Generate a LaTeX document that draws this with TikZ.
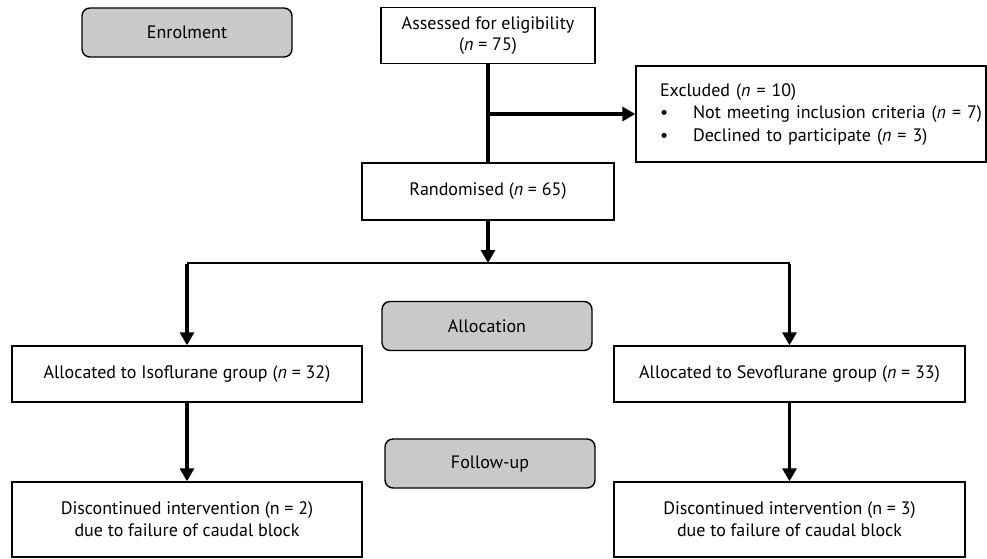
\documentclass[tikz,border=0pt]{standalone}
\usepackage{fontspec}
\setmainfont{PT Sans}
\usetikzlibrary{arrows.meta,positioning}
\definecolor{stagegray}{HTML}{C8C9CB}
\begin{document}
\begin{tikzpicture}[x=1pt,y=-1pt,
  font=\fontsize{18}{21}\selectfont,
  box/.style={draw,line width=1.4pt,align=center,inner sep=0pt},
  stage/.style={draw,line width=1.4pt,fill=stagegray,rounded corners=8pt,minimum width=210pt,minimum height=49pt,inner sep=0pt},
  thickline/.style={line width=3.2pt},
  thinline/.style={line width=1.4pt},
  arr/.style={line width=3.2pt,-{Triangle[length=13pt,width=14pt]}}]
\useasboundingbox (0,0) rectangle (987,558);
% stage labels
\node[stage] (enrol) at (187,32.5) {Enrolment};
\node[stage] (alloc) at (487,326) {Allocation};
\node[stage] (follow) at (490,463.5) {Follow-up};
% boxes
\node[box,minimum width=214pt,minimum height=56pt] (assess) at (488,35.5) {Assessed for eligibility\\(\textit{n} = 75)};
\node[box,minimum width=350pt,minimum height=96pt,text width=326pt,align=left] (excl) at (811,114)
  {\fontsize{18}{22.5}\selectfont\begin{tabular}{@{\hspace{12pt}}p{33pt}@{}l@{}}
   \multicolumn{2}{@{\hspace{12pt}}l}{Excluded (\textit{n} = 10)}\\
   \textbullet & Not meeting inclusion criteria (\textit{n} = 7)\\
   \textbullet & Declined to participate (\textit{n} = 3)
   \end{tabular}};
\node[box,minimum width=252pt,minimum height=57pt] (rand) at (488,191.5) {Randomised (\textit{n} = 65)};
\node[box,minimum width=350pt,minimum height=56pt] (iso) at (187,374) {Allocated to Isoflurane group (\textit{n} = 32)};
\node[box,minimum width=351pt,minimum height=56pt] (sevo) at (789.5,374) {Allocated to Sevoflurane group (\textit{n} = 33)};
\node[box,minimum width=350pt,minimum height=75pt,font=\fontsize{18}{22}\selectfont] (disc1) at (187,519.5) {Discontinued intervention (n = 2)\\due to failure of caudal block};
\node[box,minimum width=351pt,minimum height=75pt,font=\fontsize{18}{22}\selectfont] (disc2) at (789.5,519.5) {Discontinued intervention (n = 3)\\due to failure of caudal block};
% junction coordinates
\coordinate (jx) at (assess.south |- excl.west);
\coordinate (split) at (488,263);
\coordinate (bl) at (187,263);
\coordinate (br) at (789.5,263);
% connectors
\draw[thickline] (assess.south) -- (rand.north);
\draw[arr] (jx) -- (excl.west);
\draw[arr] (rand.south) -- (split);
\draw[thinline] (bl) -- (br);
\draw[arr] ([yshift=-0.7pt]bl) -- (iso.north);
\draw[arr] ([yshift=-0.7pt]br) -- (sevo.north);
\draw[arr] (iso.south) -- (disc1.north);
\draw[arr] (sevo.south) -- (disc2.north);
\end{tikzpicture}
\end{document}
